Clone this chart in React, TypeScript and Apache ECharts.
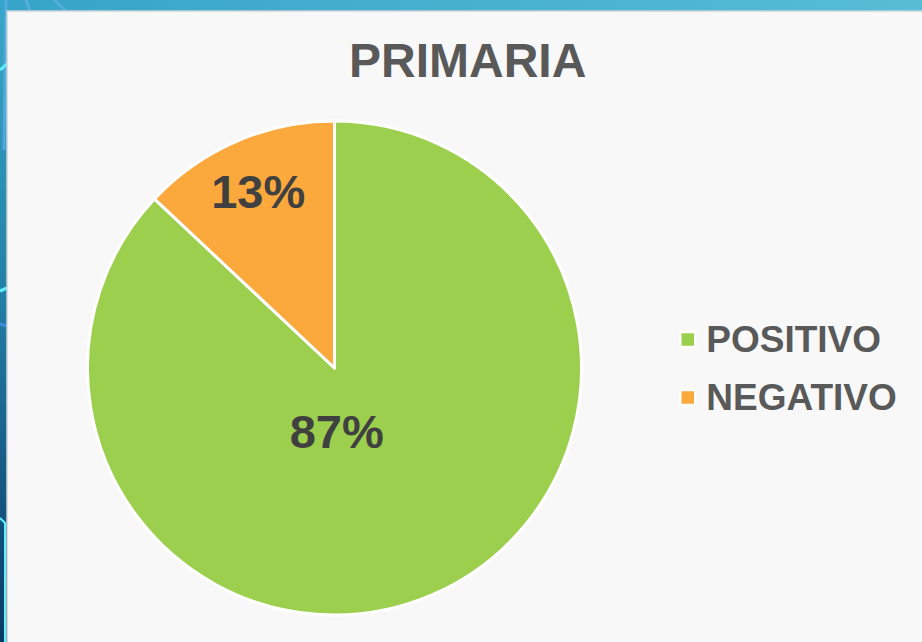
import React, { useEffect, useRef } from "react";
import * as echarts from "echarts";

const titleText = "PRIMARIA";
const categories = ["POSITIVO", "NEGATIVO"];
const values = [87, 13];
const colors = ["#9ccf4e", "#fba83c"];

const FONT = "'Liberation Sans', Arial, sans-serif";

export default function App() {
  const ref = useRef<HTMLDivElement>(null);
  useEffect(() => {
    if (!ref.current) return;
    const chart = echarts.init(ref.current, null, { renderer: "svg" });
    const labelOffsets = [
      [-48, -53],
      [-26, -60],
    ];
    chart.setOption({
      animation: false,
      backgroundColor: "transparent",
      graphic: [
        {
          type: "rect",
          z: -10,
          shape: { x: 0, y: 0, width: 922, height: 642 },
          style: {
            fill: new echarts.graphic.LinearGradient(0, 0, 0, 1, [
              { offset: 0, color: "#3aa7c9" },
              { offset: 0.45, color: "#2380a8" },
              { offset: 1, color: "#0a3a64" },
            ]),
          },
        },
        {
          type: "rect",
          z: -9,
          shape: { x: 0, y: 0, width: 922, height: 11 },
          style: {
            fill: new echarts.graphic.LinearGradient(0, 0, 1, 0, [
              { offset: 0, color: "#36a4c8" },
              { offset: 1, color: "#58bcd6" },
            ]),
          },
        },
        {
          type: "line",
          z: -8,
          shape: { x1: 6, y1: 0, x2: 4, y2: 150 },
          style: { stroke: "#5aaee6", lineWidth: 3, opacity: 0.8 },
        },
        {
          type: "line",
          z: -8,
          shape: { x1: 26, y1: 0, x2: 30, y2: 11 },
          style: { stroke: "#5fb0e6", lineWidth: 3, opacity: 0.8 },
        },
        {
          type: "line",
          z: -8,
          shape: { x1: 54, y1: 0, x2: 66, y2: 11 },
          style: { stroke: "#5fb0e6", lineWidth: 3, opacity: 0.7 },
        },
        {
          type: "polyline",
          z: -8,
          shape: { points: [[0, 70], [7, 64]] },
          style: { stroke: "#5ff0ff", lineWidth: 3 },
        },
        {
          type: "polyline",
          z: -8,
          shape: { points: [[0, 291], [7, 288]] },
          style: { stroke: "#5ff0ff", lineWidth: 3 },
        },
        {
          type: "polyline",
          z: -8,
          shape: { points: [[0, 324], [7, 326]] },
          style: { stroke: "#3c8fe0", lineWidth: 3 },
        },
        {
          type: "polyline",
          z: -8,
          shape: { points: [[0, 518], [5, 523], [5, 642]] },
          style: { stroke: "#5ff0ff", lineWidth: 2 },
        },
        {
          type: "rect",
          z: -5,
          shape: { x: 7, y: 11, width: 920, height: 640 },
          style: { fill: "#f8f8f8", stroke: "#c9d3d8", lineWidth: 1.5 },
        },
      ],
      title: {
        text: titleText,
        left: 349,
        top: 36,
        padding: 0,
        textStyle: {
          fontFamily: FONT,
          fontSize: 48,
          fontWeight: "bold",
          color: "#595959",
          lineHeight: 48,
        },
      },
      legend: {
        orient: "vertical",
        left: 679,
        top: 321,
        padding: 0,
        itemWidth: 15,
        itemHeight: 15,
        itemGap: 21,
        icon: "rect",
        itemStyle: { borderColor: "#ffffff", borderWidth: 2.5 },
        textStyle: {
          fontFamily: FONT,
          fontSize: 37,
          fontWeight: "bold",
          color: "#595959",
          lineHeight: 36,
          padding: [0, 0, 0, 6],
        },
        data: categories,
      },
      series: [
        {
          type: "pie",
          center: [334.5, 368],
          radius: 247,
          startAngle: 90,
          clockwise: true,
          avoidLabelOverlap: false,
          itemStyle: { borderColor: "#ffffff", borderWidth: 3 },
          label: {
            show: true,
            position: "inside",
            formatter: "{d}%",
            fontFamily: FONT,
            fontSize: 47,
            fontWeight: "bold",
            color: "#404040",
          },
          labelLine: { show: false },
          emphasis: { disabled: true },
          data: categories.map((name, i) => ({
            name,
            value: values[i],
            itemStyle: { color: colors[i] },
            label: { offset: labelOffsets[i] },
          })),
        },
      ],
    });
    return () => chart.dispose();
  }, []);
  return (
    <div
      ref={ref}
      style={{ position: "absolute", left: 0, top: 0, width: 922, height: 642 }}
    />
  );
}
